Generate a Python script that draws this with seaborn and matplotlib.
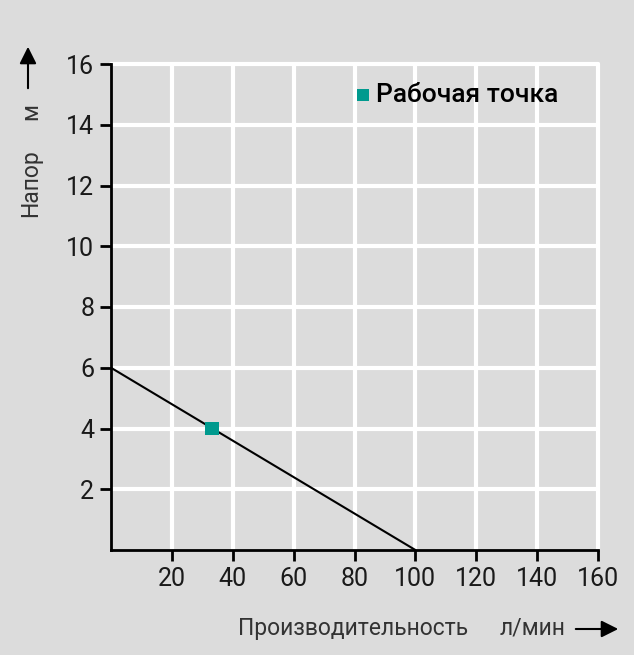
import matplotlib
matplotlib.use("Agg")
import matplotlib.pyplot as plt
import seaborn as sns
import pandas as pd

# data
curve_flow = [0, 100]
curve_head = [6, 0]
point_flow = [33.3]
point_head = [4]
x_ticks = [20, 40, 60, 80, 100, 120, 140, 160]
y_ticks = [2, 4, 6, 8, 10, 12, 14, 16]
legend_label = "Рабочая точка"
x_label = "Производительность"
x_unit = "л/мин"
y_label = "Напор"
y_unit = "м"

sns.set_style("white")
plt.rcParams['font.family'] = ['Roboto', 'DejaVu Sans']

W, H = 634, 655
fig = plt.figure(figsize=(W / 100, H / 100), dpi=100)
fig.patch.set_facecolor("#dcdcdc")
ax = fig.add_axes([111 / W, 1 - 550 / H, (598 - 111) / W, (550 - 64) / H])
ax.set_facecolor("#dcdcdc")

curve = pd.DataFrame({"flow": curve_flow, "head": curve_head})
pt = pd.DataFrame({"flow": point_flow, "head": point_head})

ax.set_xlim(0, 160)
ax.set_ylim(0, 16)
ax.set_xticks(x_ticks)
ax.set_yticks(y_ticks)
ax.grid(True, color="white", linewidth=3)
for gl in ax.get_xgridlines() + ax.get_ygridlines():
    gl.set_clip_on(False)
ax.set_axisbelow(True)

sns.lineplot(data=curve, x="flow", y="head", ax=ax, color="black", linewidth=1.5, zorder=3)
sns.scatterplot(data=pt, x="flow", y="head", ax=ax, marker="s", s=100, color="#009a8e",
                edgecolor="none", zorder=4, label=legend_label, clip_on=False)

for s in ["top", "right"]:
    ax.spines[s].set_visible(False)
for s in ["left", "bottom"]:
    ax.spines[s].set_color("black")
    ax.spines[s].set_linewidth(2)
ax.tick_params(axis="both", direction="out", length=8, width=2, color="black",
               labelsize=18, labelcolor="#1a1a1a", pad=4, left=True, bottom=True)
ax.set_xlabel("")
ax.set_ylabel("")

leg = ax.legend(loc="upper left", bbox_to_anchor=(0.444, 1.01), frameon=False,
                handletextpad=0.05, handlelength=0.9, markerscale=0.85,
                prop={"size": 19, "weight": "medium"})
for t in leg.get_texts():
    t.set_color("black")

# axis labels with arrows
lab_color = "#333333"
fig.text(238 / W, 1 - 628 / H, x_label, fontsize=16.5, color=lab_color, va="center", ha="left")
fig.text(500 / W, 1 - 628 / H, x_unit, fontsize=16.5, color=lab_color, va="center", ha="left")
fig.patches.append(matplotlib.patches.FancyArrowPatch(
    (573 / W, 1 - 629 / H), (621 / W, 1 - 629 / H), transform=fig.transFigure,
    arrowstyle="-|>,head_length=6,head_width=3", color="black", linewidth=1.5,
    mutation_scale=1.7))

fig.text(31 / W, 1 - 183 / H, y_label, fontsize=16.5, color=lab_color, va="center", ha="center",
         rotation=90)
fig.text(31 / W, 1 - 112 / H, y_unit, fontsize=16.5, color=lab_color, va="center", ha="center",
         rotation=90)
fig.patches.append(matplotlib.patches.FancyArrowPatch(
    (28 / W, 1 - 91 / H), (28 / W, 1 - 44 / H), transform=fig.transFigure,
    arrowstyle="-|>,head_length=6,head_width=3", color="black", linewidth=1.5,
    mutation_scale=1.7))

fig.savefig("out.png", dpi=100, facecolor=fig.get_facecolor())
